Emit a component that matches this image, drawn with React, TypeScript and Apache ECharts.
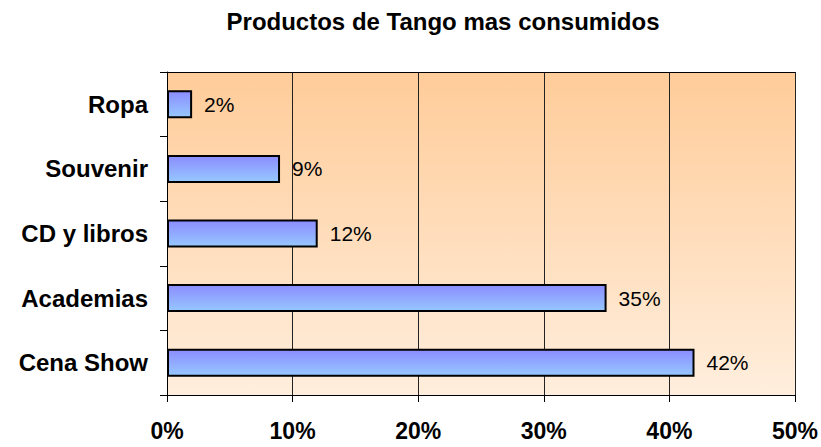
import React, { useEffect, useRef } from "react";
import * as echarts from "echarts";

const categories = ["Cena Show", "Academias", "CD y libros", "Souvenir", "Ropa"];
const values = [42, 35, 12, 9, 2];
const xTicks = { min: 0, max: 50, interval: 10 };
const titleText = "Productos de Tango mas consumidos";

const FONT = "'Liberation Sans', Arial, sans-serif";

export default function App() {
  const ref = useRef<HTMLDivElement>(null);
  useEffect(() => {
    if (!ref.current) return;
    const chart = echarts.init(ref.current, null, { renderer: "svg" });
    chart.setOption({
      animation: false,
      backgroundColor: "#ffffff",
      title: {
        text: titleText,
        left: 438,
        top: 4,
        textAlign: "center",
        textStyle: { fontFamily: FONT, fontSize: 24, fontWeight: "bold", color: "#000" },
      },
      grid: {
        left: 167,
        right: 24,
        top: 72,
        bottom: 52,
        show: true,
        borderWidth: 0,
        backgroundColor: new echarts.graphic.LinearGradient(0, 0, 0, 1, [
          { offset: 0, color: "#FFCC99" },
          { offset: 1, color: "#FFEEDD" },
        ]),
      },
      xAxis: [
        {
          type: "value",
          min: xTicks.min,
          max: xTicks.max,
          interval: xTicks.interval,
          position: "bottom",
          axisLine: { show: true, lineStyle: { color: "#000", width: 1 } },
          axisTick: { show: true, length: 7, lineStyle: { color: "#000" } },
          axisLabel: {
            formatter: "{value}%",
            margin: 24,
            fontFamily: FONT,
            fontSize: 23,
            fontWeight: "bold",
            color: "#000",
          },
          splitLine: { show: true, lineStyle: { color: "#222", width: 1 } },
        },
        {
          type: "value",
          min: xTicks.min,
          max: xTicks.max,
          interval: xTicks.interval,
          position: "top",
          axisLine: { show: true, lineStyle: { color: "#000", width: 1 } },
          axisTick: { show: false },
          axisLabel: { show: false },
          splitLine: { show: false },
        },
      ],
      yAxis: {
        type: "category",
        data: categories,
        axisLine: { show: true, lineStyle: { color: "#000", width: 1 } },
        axisTick: { show: true, length: 7, lineStyle: { color: "#000" } },
        axisLabel: {
          margin: 19,
          fontFamily: FONT,
          fontSize: 24,
          fontWeight: "bold",
          color: "#000",
        },
        splitLine: { show: false },
      },
      series: [
        {
          type: "bar",
          data: values,
          xAxisIndex: 0,
          barWidth: 28,
          itemStyle: {
            color: new echarts.graphic.LinearGradient(0, 0, 0, 1, [
              { offset: 0, color: "#8C8CFF" },
              { offset: 1, color: "#96C8FF" },
            ]),
            borderColor: "#000",
            borderWidth: 2,
          },
          label: {
            show: true,
            position: "right",
            distance: 12,
            formatter: "{c}%",
            fontFamily: FONT,
            fontSize: 21,
            color: "#000",
          },
        },
      ],
    });
    return () => chart.dispose();
  }, []);
  return (
    <div
      ref={ref}
      style={{ position: "fixed", left: 0, top: 0, width: 821, height: 447, background: "#fff" }}
    />
  );
}
